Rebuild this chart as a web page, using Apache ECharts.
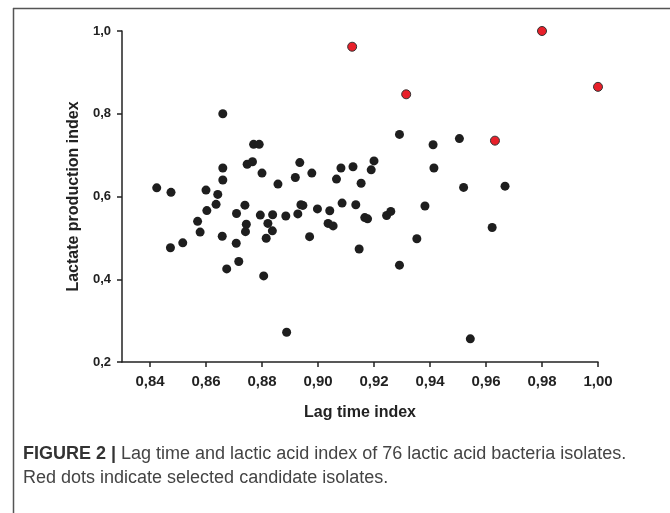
<!DOCTYPE html>
<html>
<head>
<meta charset="utf-8">
<script src="https://cdn.jsdelivr.net/npm/echarts@6/dist/echarts.min.js"></script>
<style>
  html, body { margin: 0; padding: 0; background: #fff; }
  #chart { width: 670px; height: 513px; }
</style>
</head>
<body>
<div id="chart"></div>
<script>
// x = lag time index, y = lactate production index
const otherIsolates = [
  [0.866, 0.800], [0.877, 0.726], [0.879, 0.726], [0.8747, 0.678], [0.8766, 0.684],
  [0.866, 0.669], [0.880, 0.6565], [0.866, 0.640], [0.8857, 0.630], [0.8919, 0.646],
  [0.8935, 0.682], [0.8424, 0.621], [0.8475, 0.610], [0.860, 0.6155], [0.8642, 0.605],
  [0.8603, 0.566], [0.8636, 0.581], [0.857, 0.540], [0.8579, 0.514], [0.8473, 0.476],
  [0.8517, 0.488], [0.8658, 0.504], [0.8674, 0.425], [0.8708, 0.487], [0.8717, 0.443],
  [0.8709, 0.559], [0.8739, 0.579], [0.8744, 0.533], [0.8741, 0.515], [0.8794, 0.555],
  [0.8821, 0.535], [0.8838, 0.556], [0.8815, 0.499], [0.8837, 0.517], [0.8806, 0.408],
  [0.8885, 0.553], [0.8888, 0.272], [0.8928, 0.558], [0.8939, 0.580], [0.8946, 0.5785],
  [0.8998, 0.570], [0.9042, 0.5655], [0.9086, 0.584], [0.9135, 0.580], [0.9036, 0.535],
  [0.9054, 0.529], [0.8970, 0.503], [0.9167, 0.549], [0.9177, 0.546], [0.9147, 0.473],
  [0.9245, 0.554], [0.926, 0.564], [0.9382, 0.577], [0.9353, 0.498], [0.9291, 0.434],
  [0.9544, 0.256], [0.9520, 0.622], [0.9668, 0.625], [0.9622, 0.525], [0.9291, 0.750],
  [0.9411, 0.725], [0.9505, 0.740], [0.9414, 0.669], [0.8978, 0.6565], [0.9066, 0.642],
  [0.9082, 0.669], [0.9125, 0.672], [0.9154, 0.632], [0.9190, 0.6645], [0.9200, 0.686]
];
const selectedIsolates = [
  [0.9122, 0.962], [0.9315, 0.847], [0.980, 1.000], [1.000, 0.865], [0.9632, 0.735]
];
const xTicks = [0.84, 0.86, 0.88, 0.90, 0.92, 0.94, 0.96, 0.98, 1.00];

const chart = echarts.init(document.getElementById('chart'));
const font = '"Liberation Sans", Arial, sans-serif';

chart.setOption({
  animation: false,
  grid: { left: 122, right: 72, top: 31, bottom: 151 },
  xAxis: {
    type: 'value',
    min: 0.83,
    max: 1.0,
    name: 'Lag time index',
    nameLocation: 'middle',
    nameGap: 43,
    nameTextStyle: { fontFamily: font, fontWeight: 'bold', fontSize: 16, color: '#222' },
    axisLine: { lineStyle: { color: '#222', width: 1.5 } },
    axisTick: { customValues: xTicks, length: 5, lineStyle: { color: '#222', width: 1.5 } },
    axisLabel: {
      customValues: xTicks,
      margin: 12,
      fontFamily: font, fontWeight: 'bold', fontSize: 15, color: '#222',
      formatter: v => v.toFixed(2).replace('.', ',')
    },
    splitLine: { show: false }
  },
  yAxis: {
    type: 'value',
    min: 0.2,
    max: 1.0,
    interval: 0.2,
    name: 'Lactate production index',
    nameLocation: 'middle',
    nameGap: 40,
    nameTextStyle: { fontFamily: font, fontWeight: 'bold', fontSize: 16, color: '#222' },
    axisLine: { show: true, lineStyle: { color: '#222', width: 1.5 } },
    axisTick: { show: true, length: 5, lineStyle: { color: '#222', width: 1.5 } },
    axisLabel: {
      margin: 11,
      fontFamily: font, fontWeight: 'bold', fontSize: 13, color: '#222',
      formatter: v => v.toFixed(1).replace('.', ',')
    },
    splitLine: { show: false }
  },
  series: [
    {
      type: 'scatter',
      data: otherIsolates,
      symbolSize: 9,
      itemStyle: { color: '#1e1e1e', opacity: 1 }
    },
    {
      type: 'scatter',
      data: selectedIsolates,
      symbolSize: 9,
      itemStyle: { color: '#e8202a', borderColor: '#333', borderWidth: 1, opacity: 1 }
    }
  ],
  graphic: [
    { type: 'line', shape: { x1: 13, y1: 8.5, x2: 670, y2: 8.5 }, style: { stroke: '#555', lineWidth: 1.5 } },
    { type: 'line', shape: { x1: 13.5, y1: 8, x2: 13.5, y2: 513 }, style: { stroke: '#555', lineWidth: 1.5 } },
    {
      type: 'text', left: 23, top: 445,
      style: {
        text: '{b|FIGURE 2 |} Lag time and lactic acid index of 76 lactic acid bacteria isolates.',
        rich: {
          b: { fontFamily: font, fontWeight: 'bold', fontSize: 18, fill: '#333' }
        },
        fontFamily: font, fontSize: 18, fill: '#444'
      }
    },
    {
      type: 'text', left: 23, top: 469,
      style: { text: 'Red dots indicate selected candidate isolates.', fontFamily: font, fontSize: 18, fill: '#444' }
    }
  ]
});
</script>
</body>
</html>
